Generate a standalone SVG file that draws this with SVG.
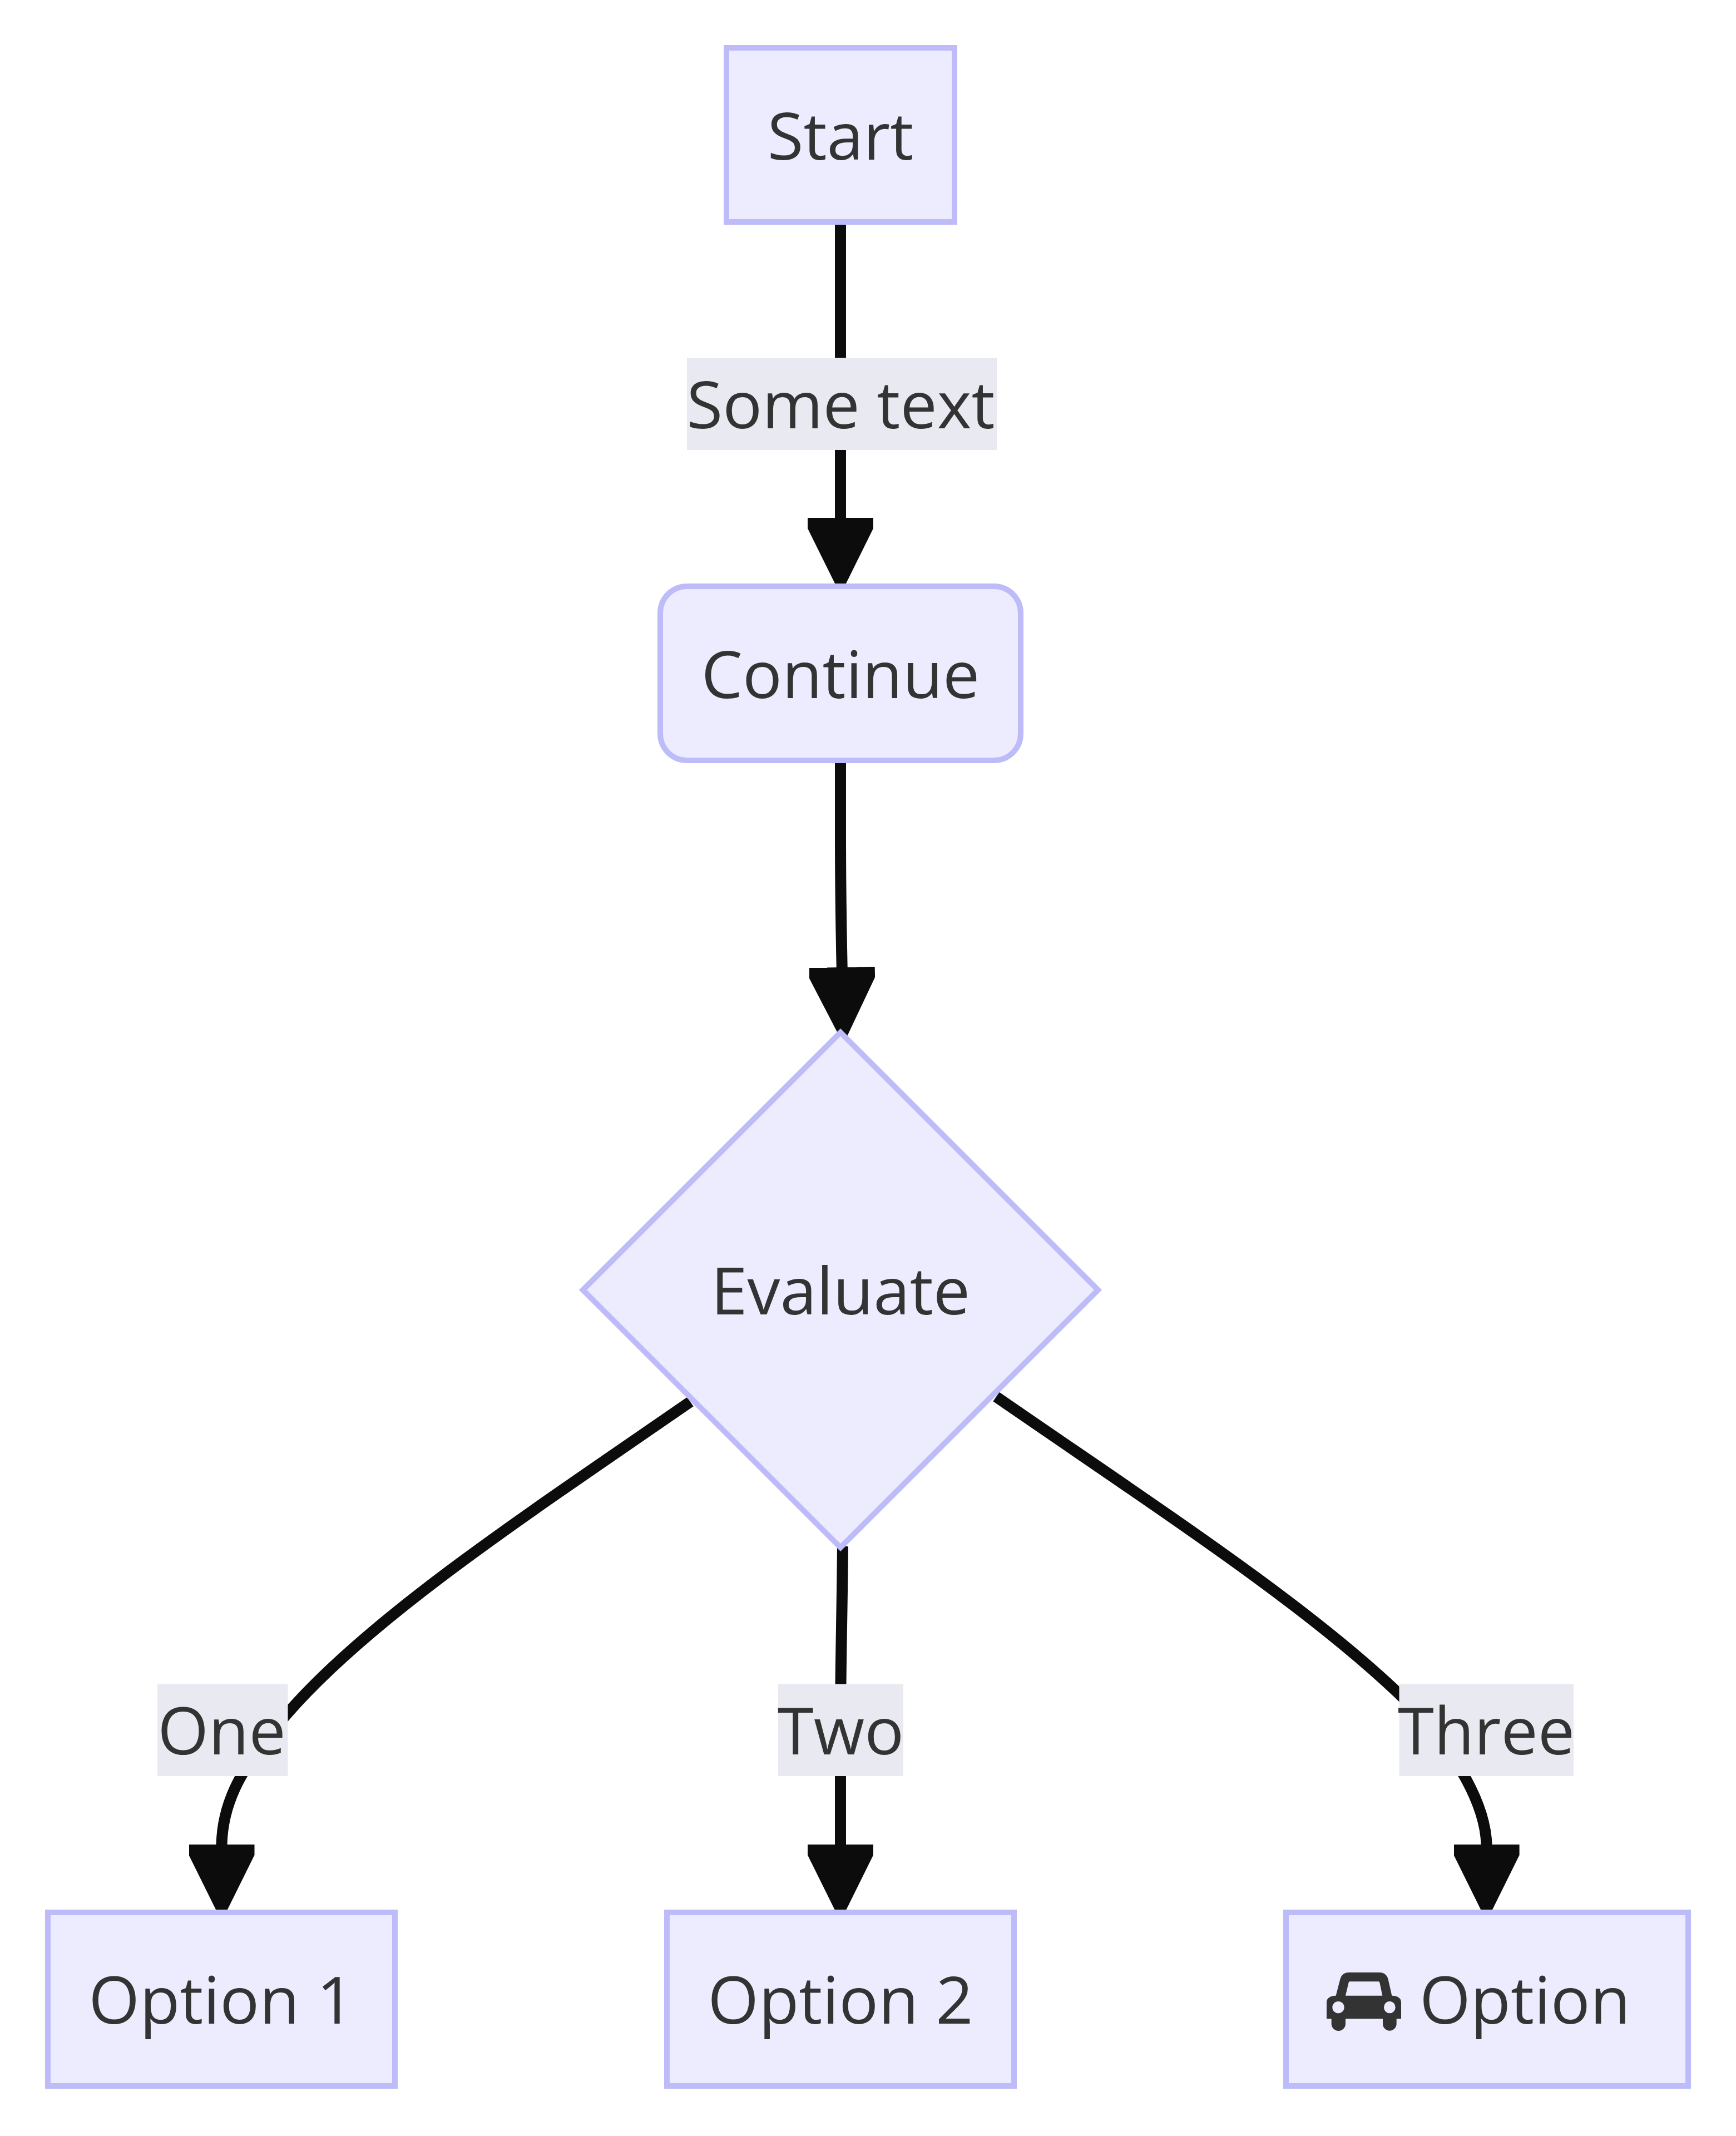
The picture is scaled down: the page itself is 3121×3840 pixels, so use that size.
<svg xmlns="http://www.w3.org/2000/svg" width="3121" height="3840" viewBox="0 0 3121 3840">
<style>
.shape{fill:#edecff;stroke:#bdbcf8;stroke-width:10}
.edge{fill:none;stroke:#0c0c0c;stroke-width:20;marker-end:url(#arrow)}
.edge-bg{fill:#e9e9f1}
text{font-family:"Open Sans","Noto Sans","Liberation Sans",sans-serif;font-size:118px;fill:#333;text-anchor:middle}
</style>
<defs>
<marker id="arrow" markerUnits="userSpaceOnUse" markerWidth="124" markerHeight="118" viewBox="0 0 124 118" refX="5" refY="59" orient="auto">
<polygon fill="#0c0c0c" points="0,0 19,0 124,52 124,66 19,118 0,118"/>
</marker>
</defs>
<rect width="3121" height="3840" fill="#ffffff"/>
<g id="connectors">
<path id="edge-start-continue" class="edge" d="M1511,399 L1511,936"/>
<path id="edge-continue-evaluate" class="edge" d="M1511,1367 L1511,1500 C1511,1620 1512.6,1680 1513.8,1744"/>
<path id="edge-evaluate-one" class="edge" d="M1241,2520 C941,2727 667,2907.5 517,3080 C440,3169 398.5,3235 398.5,3321"/>
<path id="edge-evaluate-two" class="edge" d="M1515,2780 C1514,2900 1511,3000 1511,3100 L1511,3321"/>
<path id="edge-evaluate-three" class="edge" d="M1791,2511 C2091,2718 2345,2883 2515,3045 C2600,3125 2672.6,3235 2672.6,3321"/>
</g>
<g id="edge-labels">
<g id="label-some-text"><rect class="edge-bg" x="1235" y="643.5" width="557" height="165.5"/><text x="1511.5" y="770">Some text</text></g>
<g id="label-one"><rect class="edge-bg" x="283" y="3027.5" width="234.5" height="165.5"/><text x="398.5" y="3153.5">One</text></g>
<g id="label-two"><rect class="edge-bg" x="1399" y="3027.5" width="225" height="165.5"/><text x="1511.5" y="3153.5">Two</text></g>
<g id="label-three"><rect class="edge-bg" x="2515.5" y="3027.5" width="313.5" height="165.5"/><text x="2672" y="3153.5">Three</text></g>
</g>
<g id="node-start"><rect class="shape" x="1306" y="86" width="410" height="313"/><text x="1511" y="286.5">Start</text></g>
<g id="node-continue"><rect class="shape" x="1187" y="1054" width="648" height="313" rx="48" ry="48"/><text x="1511" y="1254.5">Continue</text></g>
<g id="node-evaluate"><polygon class="shape" points="1511,1856 1974,2319 1511,2782 1048,2319"/><text x="1511" y="2363">Evaluate</text></g>
<g id="node-option1"><rect class="shape" x="86" y="3438" width="624" height="312"/><text x="398" y="3638">Option 1</text></g>
<g id="node-option2"><rect class="shape" x="1199" y="3438" width="624" height="312"/><text x="1511" y="3638">Option 2</text></g>
<g id="node-option3"><rect class="shape" x="2312" y="3438" width="723" height="312"/>
<path transform="translate(2290 3420) scale(0.33333)" fill="#333" fill-rule="evenodd" d="M285,628 L285,540 Q285,505 335,503 L358,415 Q368,378 405,378 L570,378 Q607,378 617,415 L637,503 Q687,505 687,540 L687,628 L662,628 L662,655 A37,37 0 0 1 588,655 L588,628 L387,628 L387,655 A38,38 0 0 1 311,655 L311,628 Z M387,503 L404,432 Q405,427 410,427 L565,427 Q570,427 571,432 L586,503 Z M380,566 A32,32 0 1 0 316,566 A32,32 0 1 0 380,566 Z M656,566 A31,32 0 1 0 594,566 A31,32 0 1 0 656,566 Z"/>
<text x="2552" y="3638" style="text-anchor:start">Option</text></g>
</svg>
